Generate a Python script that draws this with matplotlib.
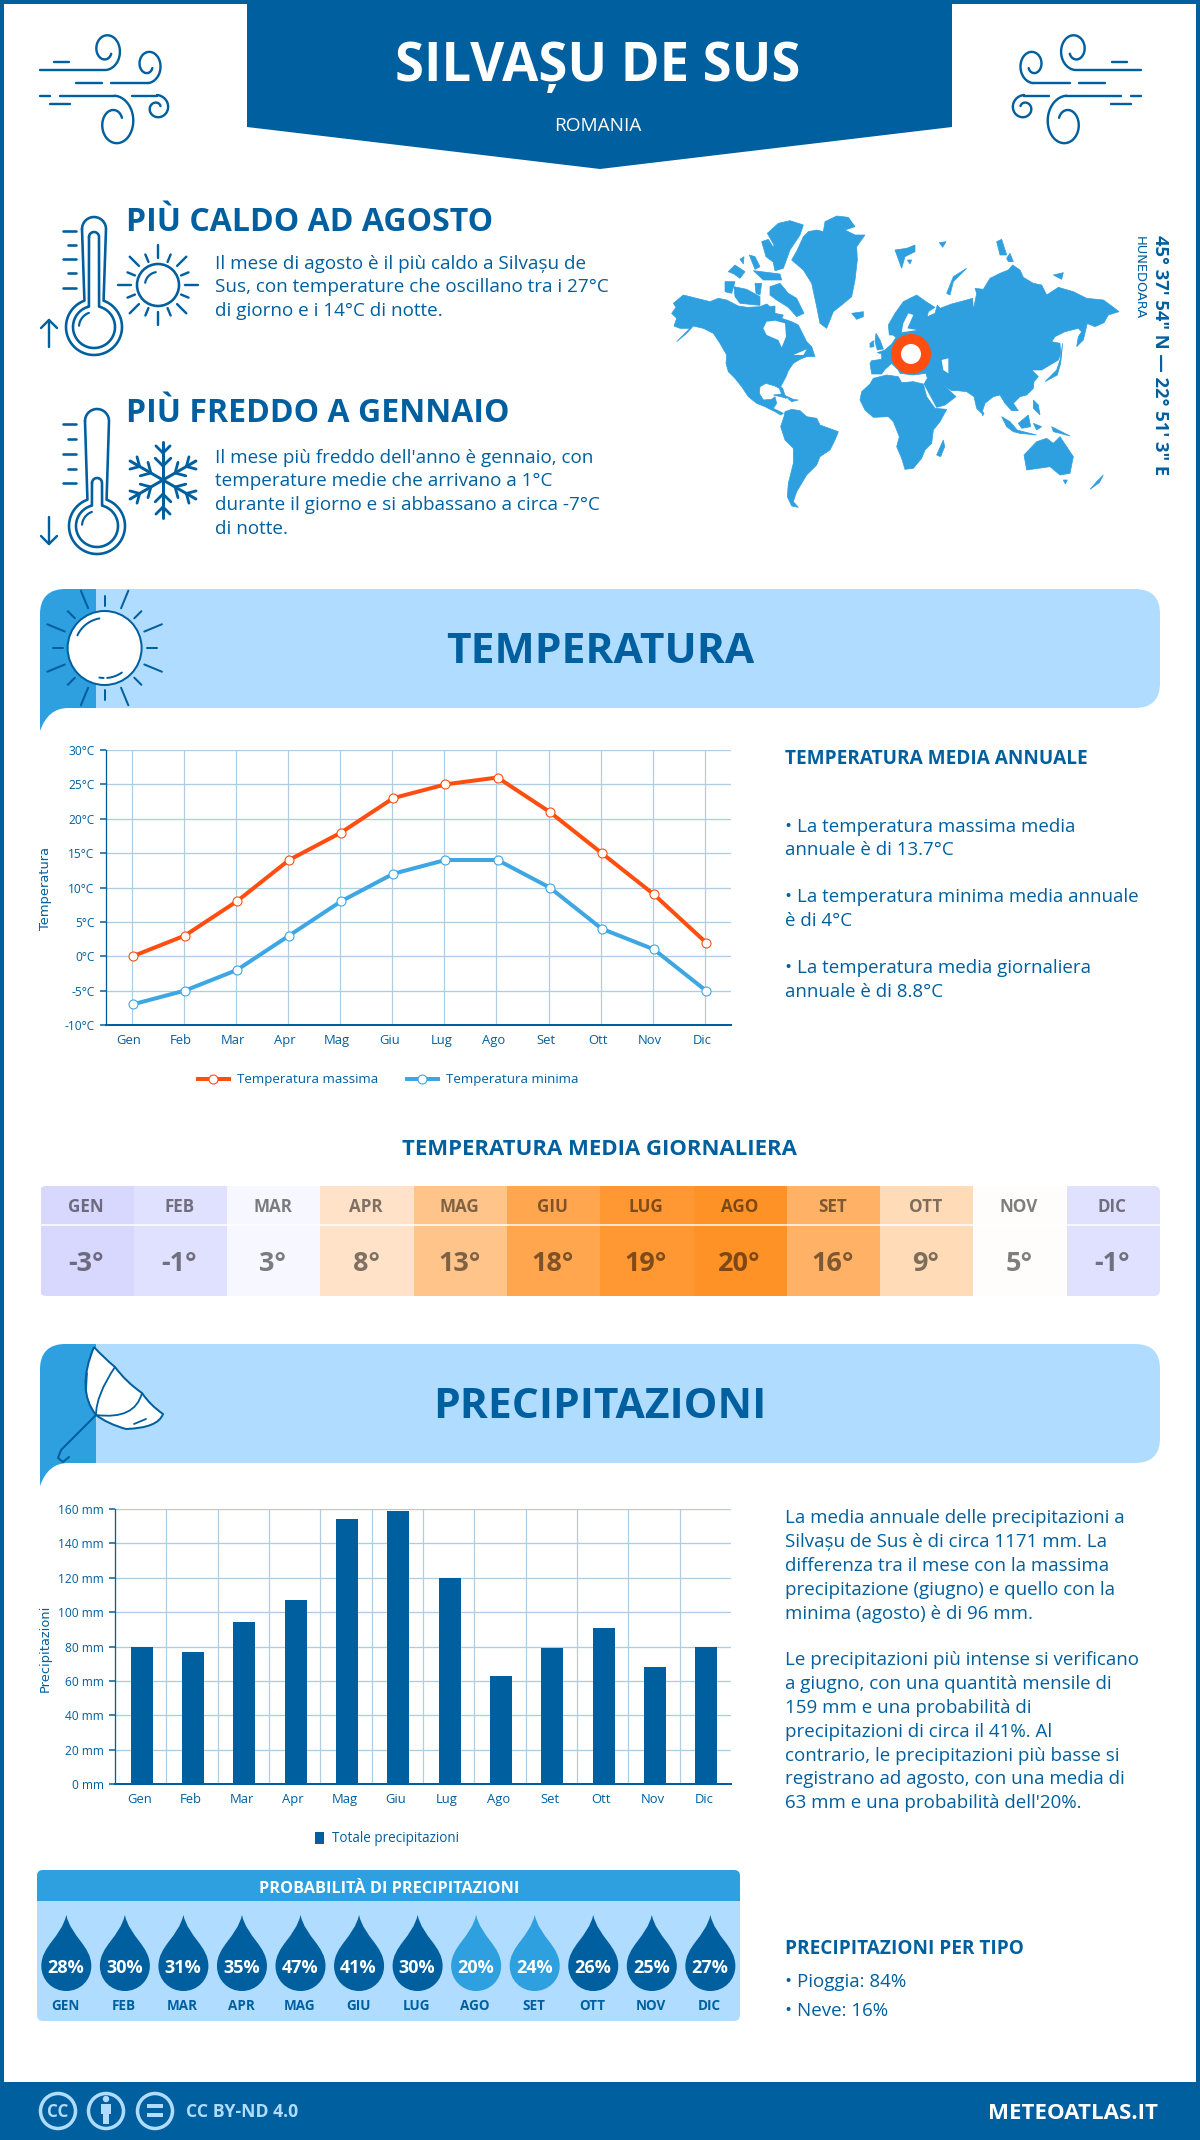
import numpy as np
import matplotlib
matplotlib.use("Agg")
import matplotlib.pyplot as plt
from matplotlib.patches import Rectangle, Circle, FancyBboxPatch, PathPatch, Polygon
from matplotlib.path import Path
from matplotlib.transforms import ScaledTranslation

plt.rcParams["font.family"] = ["Open Sans", "DejaVu Sans"]

# --- data ---
months = ["Gen", "Feb", "Mar", "Apr", "Mag", "Giu", "Lug", "Ago", "Set", "Ott", "Nov", "Dic"]
temp_max = [0, 3, 8, 14, 18, 23, 25, 26, 21, 15, 9, 2]
temp_min = [-7, -5, -2, 3, 8, 12, 14, 14, 10, 4, 1, -5]
temp_mean = [-3, -1, 3, 8, 13, 18, 19, 20, 16, 9, 5, -1]
precip = [80, 77, 94, 107, 154, 159, 120, 63, 79, 91, 68, 80]
rain_prob = [28, 30, 31, 35, 47, 41, 30, 20, 24, 26, 25, 27]
temp_ticks = [-10, -5, 0, 5, 10, 15, 20, 25, 30]
precip_ticks = [0, 20, 40, 60, 80, 100, 120, 140, 160]

# colours
DARK = "#005f9e"
MID = "#2e9fdf"
LIGHT = "#b0dcff"
ORANGE = "#ff4e0f"
LINE_BLUE = "#3da6e3"
GRID = "#aecde2"
heat_colors = ["#d8d8ff", "#e0e0ff", "#f7f7ff", "#ffe2c8", "#ffc48a", "#ffa64f",
               "#ff9733", "#ff9226", "#ffb266", "#ffdbb8", "#fffdfb", "#e0e0ff"]

W, H = 1200, 2140
fig = plt.figure(figsize=(W / 100, H / 100), dpi=100)
bg = fig.add_axes([0, 0, 1, 1])
bg.set_xlim(0, W)
bg.set_ylim(H, 0)
bg.axis("off")


def pt(px):
    return px * 0.72


def txt(x, y, s, size, weight="normal", color=DARK, ha="left", va="baseline", **kw):
    return bg.text(x, y, s, fontsize=pt(size), fontweight=weight, color=color, ha=ha, va=va, **kw)


def stroke(points, lw=2.5, color=DARK, z=3):
    xs, ys = zip(*points)
    bg.plot(xs, ys, color=color, lw=pt(lw), solid_capstyle="round", solid_joinstyle="round", zorder=z)


def spiral(cx, cy, r0, r1, a0, a1, sy=1.0):
    a = np.radians(np.linspace(a0, a1, 60))
    r = np.linspace(r0, r1, 60)
    return list(zip(cx + r * np.cos(a), cy + sy * r * np.sin(a)))


# --- frame, header, footer ---
bg.add_patch(Rectangle((0, 0), W, H, fc="white", ec="none", zorder=0))
bg.add_patch(Rectangle((2, 2), W - 4, H - 4, fc="none", ec=DARK, lw=pt(4), zorder=1))
bg.add_patch(Polygon([(247, 0), (952, 0), (952, 127), (600, 169), (247, 127)], fc=DARK, ec="none", zorder=2))
txt(598, 81, "SILVAȘU DE SUS", 52.5, "bold", "white", ha="center", zorder=3)
txt(598, 131, "ROMANIA", 19, "normal", "white", ha="center", zorder=3)


def wind(mirror=False):
    f = (lambda p: [(1181 - x, y) for x, y in p]) if mirror else (lambda p: p)
    stroke(f([(40, 70), (104, 70)] + spiral(106, 50, 16, 6, 90, -330, 1.25)), 2.4)
    stroke(f([(54, 62), (69, 62)]), 2.4)
    stroke(f([(76, 83), (102, 83)]), 2.4)
    stroke(f([(111, 83), (148, 83)] + spiral(148, 65, 14.5, 5, 90, -330, 1.25)), 2.4)
    stroke(f([(40, 96), (50, 96)]), 2.4)
    stroke(f([(60, 96), (115, 96)] + spiral(115, 123, 21, 8, -90, 330, 1.3)), 2.4)
    stroke(f([(132, 96), (157, 96)] + spiral(157, 108, 13, 4, -90, 330)), 2.4)
    stroke(f([(50, 104), (70, 104)]), 2.4)


wind()
wind(True)


# --- icons for the hot and cold blocks ---
def thermometer(cx, top, by, inner_top, ticks_x, ticks_y, arrow):
    r = 28
    a = np.radians(np.linspace(-70, 250, 80))
    hw = 12
    tube = spiral(cx, top + hw, hw, hw, 180, 360)
    bulb = list(zip(cx + r * np.cos(a), by + r * np.sin(a)))
    stroke(tube + bulb + [tube[0]], 2.6)
    iw = 5
    a2 = np.radians(np.linspace(-76, 256, 80))
    inner = list(zip(cx + 21 * np.cos(a2), by + 21 * np.sin(a2)))
    itube = spiral(cx, inner_top + iw, iw, iw, 180, 360)
    stroke(itube + inner + [itube[0]], 2.6)
    stroke(spiral(cx, by, 15, 15, 185, 250), 2.2)
    for i, y in enumerate(ticks_y):
        stroke([(ticks_x + (5 if i % 2 else 0), y), (ticks_x + 13, y)], 2.6)
    stroke([(49, arrow[0]), (49, arrow[1])], 2.4)
    d = 1 if arrow[1] > arrow[0] else -1
    stroke([(41, arrow[1] - 8 * d), (49, arrow[1]), (57, arrow[1] - 8 * d)], 2.4)


thermometer(94, 217, 327, 232, 63, [231, 245, 259, 273, 288], (347, 320))
thermometer(97, 409, 526, 478, 63, [424, 439, 454, 469, 483], (517, 544))

# small sun
bg.add_patch(Circle((158, 285), 21, fc="none", ec=DARK, lw=pt(2.6), zorder=3))
stroke(spiral(158, 285, 13, 13, 190, 260), 2.2)
for i in range(16):
    a = np.radians(i * 22.5)
    r0, r1 = (27, 40) if i % 2 == 0 else (25, 33)
    stroke([(158 + r0 * np.cos(a), 285 + r0 * np.sin(a)), (158 + r1 * np.cos(a), 285 + r1 * np.sin(a))], 2.4)

# snowflake
sx, sy = 163, 480
for i in range(6):
    a = np.radians(90 + i * 60)
    ux, uy = np.cos(a), np.sin(a)
    stroke([(sx, sy), (sx + 38 * ux, sy + 38 * uy)], 3)
    for d, l in ((14, 11), (27, 10)):
        for s in (-1, 1):
            b = a + s * np.radians(45)
            stroke([(sx + d * ux, sy + d * uy), (sx + d * ux + l * np.cos(b), sy + d * uy + l * np.sin(b))], 2.8)

txt(126, 231, "PIÙ CALDO AD AGOSTO", 32, "bold")
for y, s in zip((269, 292, 316), ("Il mese di agosto è il più caldo a Silvașu de",
                                  "Sus, con temperature che oscillano tra i 27°C",
                                  "di giorno e i 14°C di notte.")):
    txt(215, y, s, 18.85)
txt(126, 422, "PIÙ FREDDO A GENNAIO", 32, "bold")
for y, s in zip((463, 486, 510, 534), ("Il mese più freddo dell'anno è gennaio, con",
                                       "temperature medie che arrivano a 1°C",
                                       "durante il giorno e si abbassano a circa -7°C",
                                       "di notte.")):
    txt(215, y, s, 18.85)

# --- world map, rough outlines, coordinates are crop pixels ---
land_left = [
    # greenland
    [(395, 180), (412, 150), (430, 110), (445, 95), (470, 90), (490, 95), (495, 65), (530, 48), (565, 52), (585, 80),
     (555, 90), (585, 105), (615, 105), (590, 140), (592, 180), (585, 240), (575, 290), (545, 315), (520, 335), (500, 385),
     (480, 370), (470, 320), (455, 250), (430, 210)],
    # arctic islands
    [(322, 100), (355, 70), (390, 62), (430, 75), (420, 105), (390, 150), (370, 205), (345, 212), (335, 165), (342, 135)],
    [(305, 125), (325, 118), (345, 150), (338, 185), (318, 170)],
    [(205, 215), (225, 195), (255, 215), (240, 235), (222, 222)],
    [(195, 245), (225, 245), (215, 280), (195, 275)],
    [(222, 260), (260, 268), (300, 290), (300, 316), (240, 310), (225, 290)],
    [(330, 260), (360, 250), (385, 280), (410, 295), (432, 340), (410, 350), (385, 322), (350, 300), (330, 285)],
    [(280, 212), (360, 222), (365, 240), (310, 240)],
    [(268, 165), (285, 170), (300, 200), (285, 208)],
    [(240, 178), (252, 170), (250, 192)],
    [(285, 250), (305, 250), (300, 285), (288, 280)],
    # north america
    [(35, 340), (48, 322), (40, 310), (70, 285), (90, 290), (150, 305), (175, 295), (200, 300), (235, 318), (262, 322),
     (300, 320), (320, 312), (330, 320), (345, 318), (345, 340), (370, 345), (365, 355), (395, 365), (415, 375), (425, 395),
     (440, 425), (455, 440), (465, 470), (440, 470), (420, 478), (400, 490), (385, 512), (378, 530), (362, 560), (368, 565),
     (378, 595), (368, 590), (358, 565), (345, 558), (318, 550), (300, 560), (298, 580), (310, 600), (335, 598), (345, 590),
     (350, 610), (340, 625), (370, 640), (362, 645), (345, 635), (315, 620), (290, 610), (265, 590), (245, 560), (225, 535),
     (205, 515), (198, 490), (200, 465), (180, 430), (160, 400), (130, 385), (100, 378), (80, 400), (50, 425), (75, 400),
     (90, 385), (60, 385), (42, 378), (50, 355)],
    [(340, 585), (365, 582), (400, 598), (370, 592)],
    [(385, 597), (415, 600), (395, 605)],
    # south america
    [(362, 680), (372, 650), (375, 635), (395, 628), (420, 632), (440, 650), (470, 655), (480, 675), (535, 695), (525, 720),
     (510, 750), (480, 770), (470, 795), (440, 825), (425, 850), (410, 875), (400, 905), (415, 922), (395, 918), (382, 890),
     (385, 850), (400, 790), (400, 745), (375, 720)],
    # africa
    [(600, 600), (605, 575), (630, 552), (640, 535), (680, 525), (715, 530), (725, 548), (760, 545), (790, 552), (800, 590),
     (825, 625), (860, 628), (840, 665), (820, 690), (815, 730), (795, 750), (785, 775), (760, 805), (735, 808), (725, 775),
     (710, 740), (718, 710), (700, 665), (685, 650), (640, 652), (615, 630)],
    [(830, 765), (850, 720), (854, 740), (842, 770)],
]
water_left = [
    [(310, 385), (320, 365), (345, 362), (375, 370), (378, 410), (365, 442), (355, 420), (320, 405)],
    [(400, 465), (440, 448), (430, 465)],
]
land_right = [
    # eurasia
    [(150, 490), (155, 482), (185, 478), (185, 462), (172, 458), (195, 450), (215, 432), (228, 412), (218, 405), (208, 405),
     (205, 375), (225, 340), (250, 305), (290, 285), (318, 305), (345, 322), (325, 335), (322, 350), (345, 340), (352, 315),
     (360, 325), (395, 312), (440, 300), (458, 295), (460, 330), (470, 280), (465, 265), (490, 268), (510, 235), (540, 220),
     (565, 210), (578, 195), (600, 210), (610, 232), (640, 250), (665, 255), (680, 285), (715, 262), (760, 275), (800, 295),
     (850, 300), (875, 318), (897, 335), (865, 345), (852, 368), (825, 380), (800, 370), (785, 395), (775, 385), (735, 395),
     (705, 410), (695, 425), (720, 430), (722, 460), (715, 480), (690, 495), (665, 510), (635, 510), (655, 530), (642, 545),
     (640, 565), (620, 585), (600, 590), (590, 600), (580, 610), (595, 632), (575, 632), (555, 610), (540, 585), (520, 590),
     (495, 610), (485, 640), (470, 625), (462, 590), (440, 575), (412, 572), (395, 572), (370, 555), (408, 590), (375, 615),
     (350, 622), (330, 585), (312, 552), (322, 535), (318, 520), (280, 525), (240, 520), (235, 510), (215, 490), (195, 508),
     (185, 522), (155, 522)],
    [(168, 400), (180, 420), (190, 447), (172, 450), (165, 425)],
    [(150, 430), (160, 422), (162, 440), (150, 442)],
    [(95, 340), (130, 335), (130, 350), (110, 358)],
    [(225, 150), (260, 145), (285, 135), (285, 155), (255, 170), (245, 205)],
    [(262, 180), (275, 180), (270, 192)],
    [(358, 128), (378, 125), (368, 142)],
    [(380, 280), (400, 230), (440, 205), (400, 245), (390, 285)],
    [(530, 125), (545, 118), (560, 165), (540, 165)],
    [(560, 175), (570, 160), (580, 185), (565, 185)],
    [(700, 225), (730, 218), (725, 238)],
    [(770, 440), (775, 410), (802, 370), (790, 420)],
    [(675, 545), (710, 510), (720, 480), (728, 430), (722, 490), (712, 525)],
    [(545, 650), (570, 665), (600, 700), (580, 695), (560, 680)],
    [(595, 670), (625, 645), (632, 680), (605, 685)],
    [(590, 690), (650, 705), (600, 700)],
    [(695, 680), (750, 708), (720, 700), (700, 695)],
    [(640, 600), (655, 615), (660, 645), (640, 625)],
    [(640, 670), (665, 680), (650, 690)],
    [(485, 632), (492, 640), (488, 648)],
    [(612, 765), (650, 725), (680, 715), (700, 730), (720, 710), (760, 770), (750, 820), (720, 825), (690, 800), (620, 810)],
    [(730, 840), (742, 840), (736, 852)],
    [(810, 868), (830, 845), (850, 825), (838, 848)],
]
water_right = [
    [(365, 480), (385, 475), (385, 520), (370, 510)],
    [(265, 340), (280, 345), (262, 385), (290, 390), (245, 397), (250, 370)],
]
for poly in land_left:
    bg.add_patch(Polygon([(660 + x / 3, 200 + y / 3) for x, y in poly], fc=MID, ec=MID, lw=0.5, zorder=2))
for poly in water_left:
    bg.add_patch(Polygon([(660 + x / 3, 200 + y / 3) for x, y in poly], fc="white", ec="none", zorder=2.5))
for poly in land_right:
    bg.add_patch(Polygon([(820 + x / 3, 200 + y / 3) for x, y in poly], fc=MID, ec=MID, lw=0.5, zorder=2))
for poly in water_right:
    bg.add_patch(Polygon([(820 + x / 3, 200 + y / 3) for x, y in poly], fc="white", ec="none", zorder=2.5))
bg.add_patch(Circle((911, 354), 15, fc="white", ec=ORANGE, lw=pt(10), zorder=3))
txt(1160, 235, "45° 37' 54\" N — 22° 51' 3\" E", 18.4, "bold", rotation=-90, ha="center", va="top", zorder=3)
txt(1139, 236, "HUNEDOARA", 13, "normal", family="DejaVu Sans", rotation=-90, ha="center", va="top", zorder=3)


# --- section banners ---
def banner(top):
    bot = top + 119
    bg.add_patch(FancyBboxPatch((40 + 25, top + 25), 1120 - 50, 119 - 50, boxstyle="round,pad=25,rounding_size=25",
                                fc=LIGHT, ec="none", zorder=1))
    verts = [(40, top + 26), (40, top), (66, top), (96, top), (96, bot), (68, bot), (48, bot), (40, bot + 23), (40, top + 26)]
    codes = [Path.MOVETO, Path.CURVE3, Path.CURVE3, Path.LINETO, Path.LINETO, Path.LINETO, Path.CURVE3, Path.CURVE3, Path.CLOSEPOLY]
    bg.add_patch(PathPatch(Path(verts, codes), fc=MID, ec="none", zorder=1.5))


banner(589)
banner(1344)
txt(600, 663, "TEMPERATURA", 42.5, "bold", ha="center", zorder=3)
txt(600, 1418, "PRECIPITAZIONI", 42.5, "bold", ha="center", zorder=3)

# big sun in the first banner
bg.add_patch(Circle((104.6, 648), 37, fc="white", ec=DARK, lw=pt(2), zorder=3))
stroke(spiral(104.6, 648, 30, 30, 205, 260), 2)
stroke(spiral(104.6, 648, 30, 30, 55, 85), 2)
stroke(spiral(104.6, 648, 30, 30, 92, 100), 2)
for i in range(16):
    a = np.radians(i * 22.5 - 90)
    r0, r1 = (43, 62) if i % 2 else (42, 52)
    stroke([(104.6 + r0 * np.cos(a), 648 + r0 * np.sin(a)), (104.6 + r1 * np.cos(a), 648 + r1 * np.sin(a))], 2)

# umbrella
umb_v = [(94, 1347), (104, 1358), (115, 1367), (126, 1382), (142, 1393), (150, 1405), (163, 1414),
         (158, 1428), (126, 1429), (108, 1424), (96, 1415), (76, 1390), (94, 1347)]
umb_c = [Path.MOVETO] + [Path.CURVE3] * 12
bg.add_patch(PathPatch(Path(umb_v, umb_c), fc="white", ec=DARK, lw=pt(2), joinstyle="round", zorder=3))
bg.add_patch(PathPatch(Path([(115, 1367), (96, 1395), (96, 1415)], [Path.MOVETO, Path.CURVE3, Path.CURVE3]),
                       fc="none", ec=DARK, lw=pt(1.8), zorder=4))
bg.add_patch(PathPatch(Path([(142, 1393), (135, 1420), (96, 1415)], [Path.MOVETO, Path.CURVE3, Path.CURVE3]),
                       fc="none", ec=DARK, lw=pt(1.8), zorder=4))
stroke([(87, 1373), (86, 1392)], 1.6, z=4)
stroke([(134, 1424), (146, 1419)], 1.8, z=4)
stroke([(96, 1415), (61, 1450), (58, 1458), (63, 1462), (69, 1457)], 2, z=4)

# --- temperature chart ---
ax = fig.add_axes([105.6 / W, 1 - 1025 / H, (731 - 105.6) / W, (1025 - 750) / H])
ax.patch.set_alpha(0)
x = np.arange(12)
ax.plot(x + 0.02, temp_max, color=ORANGE, lw=pt(4), marker="o", ms=pt(9), mfc="white", mec=ORANGE, mew=pt(1.1),
        label="Temperatura massima", zorder=3, clip_on=False)
ax.plot(x + 0.02, temp_min, color=LINE_BLUE, lw=pt(4), marker="o", ms=pt(9), mfc="white", mec=LINE_BLUE, mew=pt(1.1),
        label="Temperatura minima", zorder=3, clip_on=False)
ax.set_xlim(-0.5, 11.5)
ax.set_ylim(-10, 30)
ax.set_xticks(x, months)
ax.set_yticks(temp_ticks, [f"{t}°C" for t in temp_ticks])

# --- precipitation chart ---
ax2 = fig.add_axes([115 / W, 1 - 1784 / H, (731 - 115) / W, (1784 - 1509) / H])
ax2.patch.set_alpha(0)
ax2.bar(x + 0.02, precip, width=0.43, color=DARK, label="Totale precipitazioni", zorder=3)
ax2.set_xlim(-0.5, 11.5)
ax2.set_ylim(0, 160)
ax2.set_xticks(x, months)
ax2.set_yticks(precip_ticks, [f"{t} mm" for t in precip_ticks])
ax2.set_xticks(np.arange(0.5, 11), minor=True)

for a in (ax, ax2):
    a.set_axisbelow(True)
    a.grid(axis="y", color=GRID, lw=pt(1.3))
    for s in ("top", "right"):
        a.spines[s].set_visible(False)
    a.spines["left"].set_color(DARK)
    a.spines["left"].set_linewidth(pt(1.3))
    a.spines["bottom"].set_color(DARK)
    a.spines["bottom"].set_linewidth(pt(2))
    a.tick_params(axis="y", length=pt(6), width=pt(1.5), color=DARK, labelcolor=DARK, labelsize=pt(12), pad=pt(5))
    a.tick_params(axis="x", length=0, labelcolor=DARK, labelsize=pt(13), pad=pt(9))
ax.grid(axis="x", color=GRID, lw=pt(1.2))
ax2.grid(axis="x", which="minor", color=GRID, lw=pt(1.2))
ax2.tick_params(axis="x", which="minor", length=0)

shift = ScaledTranslation(-3 / 100, 0, fig.dpi_scale_trans)
for lab in ax.get_xticklabels():
    lab.set_transform(lab.get_transform() + shift)
shift2 = ScaledTranslation(-1.5 / 100, 0, fig.dpi_scale_trans)
for lab in ax2.get_xticklabels():
    lab.set_transform(lab.get_transform() + shift2)

txt(45, 889, "Temperatura", 13, family="DejaVu Sans", rotation=90, ha="center", va="center")
txt(45, 1648, "Precipitazioni", 13, family="DejaVu Sans", rotation=90, ha="center", va="center")

ax.legend(loc="center", bbox_to_anchor=(388, 1080), bbox_transform=bg.transData, ncols=2, frameon=False,
          fontsize=pt(13.4), labelcolor=DARK, handlelength=2.3, columnspacing=2.15, handletextpad=0.6)
ax2.legend(loc="center", bbox_to_anchor=(387, 1839), bbox_transform=bg.transData, frameon=False,
           fontsize=pt(13.5), labelcolor=DARK, handlelength=0.7, handleheight=1.0, handletextpad=0.6)

# --- right hand texts ---
txt(785, 764, "TEMPERATURA MEDIA ANNUALE", 19, "bold")
for y, s in zip((832, 855, 902, 926, 973, 997), ("• La temperatura massima media", "annuale è di 13.7°C",
                                                 "• La temperatura minima media annuale", "è di 4°C",
                                                 "• La temperatura media giornaliera", "annuale è di 8.8°C")):
    txt(785, y, s, 18.8)

para = ["La media annuale delle precipitazioni a", "Silvașu de Sus è di circa 1171 mm. La",
        "differenza tra il mese con la massima", "precipitazione (giugno) e quello con la",
        "minima (agosto) è di 96 mm."]
para2 = ["Le precipitazioni più intense si verificano", "a giugno, con una quantità mensile di",
         "159 mm e una probabilità di", "precipitazioni di circa il 41%. Al",
         "contrario, le precipitazioni più basse si", "registrano ad agosto, con una media di",
         "63 mm e una probabilità dell'20%."]
for i, s in enumerate(para):
    txt(785, 1523 + i * 23.9, s, 18.8)
for i, s in enumerate(para2):
    txt(785, 1665 + i * 23.9, s, 18.8)
txt(785, 1954, "PRECIPITAZIONI PER TIPO", 19, "bold")
txt(785, 1987, "• Pioggia: 84%", 18.8)
txt(785, 2016, "• Neve: 16%", 18.8)

# --- daily mean table ---
txt(599, 1155, "TEMPERATURA MEDIA GIORNALIERA", 22.1, "bold", ha="center")
clip = FancyBboxPatch((46, 1192), 1108, 98, boxstyle="round,pad=6,rounding_size=6", fc="none", ec="none")
bg.add_patch(clip)
cell = (1160 - 40.5) / 12
for i, (m, t) in enumerate(zip(months, temp_mean)):
    left = 40.5 + i * cell
    r = Rectangle((left, 1186), cell + 0.5, 110, fc=heat_colors[i], ec="none", zorder=1)
    bg.add_patch(r)
    r.set_clip_path(clip)
    txt(left + cell / 2 - 1, 1212, m.upper(), 17, "bold", "black", ha="center", alpha=0.5, zorder=3)
    txt(left + cell / 2 - 1, 1271, f"{t}°", 27, "bold", "black", ha="center", alpha=0.5, zorder=3)
bg.plot([40.5, 1160], [1225, 1225], color="white", lw=pt(1.5), zorder=2)

# --- rain probability ---
clip2 = FancyBboxPatch((43, 1876), 691, 139, boxstyle="round,pad=6,rounding_size=6", fc=LIGHT, ec="none", zorder=1)
bg.add_patch(clip2)
hd = Rectangle((37, 1870), 703, 31, fc=MID, ec="none", zorder=1.5)
bg.add_patch(hd)
hd.set_clip_path(clip2)
txt(389, 1893, "PROBABILITÀ DI PRECIPITAZIONI", 16.2, "bold", "white", ha="center", zorder=3)


def drop(cx, color):
    top, cy, r = 1915, 1966, 25
    verts = [(cx, top), (cx + 5, top + 22), (cx + r, cy - 20), (cx + r, cy),
             (cx + r, cy + 14), (cx + 14, cy + r), (cx, cy + r),
             (cx - 14, cy + r), (cx - r, cy + 14), (cx - r, cy),
             (cx - r, cy - 20), (cx - 5, top + 22), (cx, top)]
    codes = [Path.MOVETO] + [Path.CURVE4] * 12
    bg.add_patch(PathPatch(Path(verts, codes), fc=color, ec="none", zorder=2))


for i, (m, p) in enumerate(zip(months, rain_prob)):
    cx = 66.3 + i * 58.55
    drop(cx, MID if p < 25 else DARK)
    txt(cx - 0.5, 1973, f"{p}%", 18, "bold", "white", ha="center", zorder=3)
    txt(cx - 1, 2010, m.upper(), 13.5, "bold", DARK, ha="center", zorder=3)

# --- footer ---
bg.add_patch(Rectangle((0, 2082), W, 58, fc=DARK, ec="none", zorder=2))
for cx in (58, 106, 155):
    bg.add_patch(Circle((cx, 2111), 17.5, fc="none", ec=LIGHT, lw=pt(3.5), zorder=3))
txt(58, 2117, "CC", 17, "bold", LIGHT, ha="center", zorder=4)
bg.add_patch(Circle((106, 2099), 3.2, fc=LIGHT, ec="none", zorder=4))
bg.add_patch(Rectangle((101, 2104), 10, 10, fc=LIGHT, ec="none", zorder=4))
bg.add_patch(Rectangle((103, 2112), 6, 12, fc=LIGHT, ec="none", zorder=4))
bg.add_patch(Rectangle((147, 2104), 16, 4, fc=LIGHT, ec="none", zorder=4))
bg.add_patch(Rectangle((147, 2113), 16, 4, fc=LIGHT, ec="none", zorder=4))
txt(186, 2117, "CC BY-ND 4.0", 17.6, "bold", LIGHT, zorder=4)
txt(1158, 2119, "METEOATLAS.IT", 22.3, "bold", "white", ha="right", zorder=4)

fig.savefig("out.png", dpi=100)
